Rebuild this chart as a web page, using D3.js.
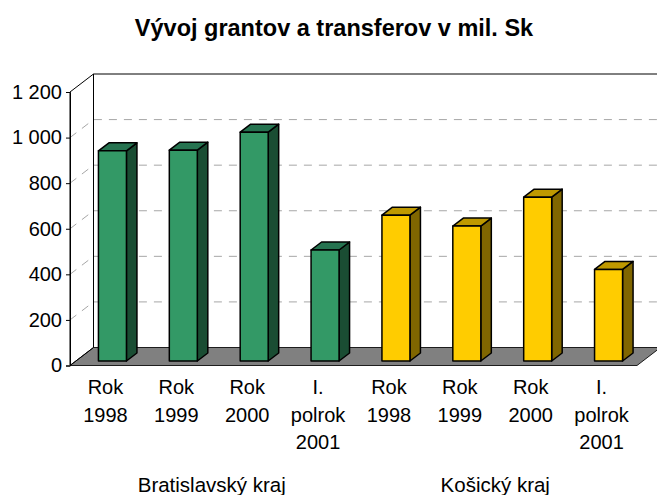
<!DOCTYPE html>
<html>
<head>
<meta charset="utf-8">
<script src="https://cdn.jsdelivr.net/npm/d3@7"></script>
<style>
  html, body { margin: 0; padding: 0; background: #fff; }
  svg { display: block; }
  text { font-family: "Liberation Sans", Arial, sans-serif; fill: #000; }
</style>
</head>
<body>
<div id="chart"></div>
<script>
var title = "Vývoj grantov a transferov v mil. Sk";
var periods = [["Rok", "1998"], ["Rok", "1999"], ["Rok", "2000"], ["I.", "polrok", "2001"],
               ["Rok", "1998"], ["Rok", "1999"], ["Rok", "2000"], ["I.", "polrok", "2001"]];
var regions = ["Bratislavský kraj", "Košický kraj"];
var values = [922, 925, 1004, 487, 640, 592, 719, 402];
var regionOf = [0, 0, 0, 0, 1, 1, 1, 1];
var yTicks = [0, 200, 400, 600, 800, 1000, 1200];

var frontColor = ["#339966", "#ffcc00"];
var topColor = ["#267350", "#bf9900"];
var sideColor = ["#1a4d33", "#806600"];

var width = 657, height = 495;
var plotLeft = 70, plotRight = 637, plotTop = 92, plotBottom = 365.5;
var depthX = 23.5, depthY = 18;       // offset of the back wall
var barDepthX = 10.5, barDepthY = 8;  // depth of one bar
var barInsetY = 4.5;                  // bars stand a bit behind the front edge of the floor
var barShift = 7;

var svg = d3.select("#chart").append("svg")
  .attr("width", width)
  .attr("height", height);

var x = d3.scaleBand()
  .domain(d3.range(values.length))
  .range([plotLeft, plotRight]);

var y = d3.scaleLinear()
  .domain([0, 1200])
  .range([plotBottom, plotTop]);

var pts = function(a) { return a.map(function(p) { return p.join(","); }).join(" "); };

svg.append("text")
  .attr("x", 334)
  .attr("y", 36)
  .attr("text-anchor", "middle")
  .style("font-size", "23.5px")
  .style("font-weight", "bold")
  .text(title);

// floor
svg.append("polygon")
  .attr("points", pts([[plotLeft, plotBottom], [plotLeft + depthX, plotBottom - depthY],
                       [plotRight + depthX, plotBottom - depthY], [plotRight, plotBottom]]))
  .attr("fill", "#808080")
  .attr("stroke", "#000")
  .attr("stroke-width", 1)
  .attr("stroke-opacity", 0.85);

// gridlines, left wall and back wall
var grid = svg.append("g");
yTicks.slice(1, -1).forEach(function(t) {
  grid.append("polyline")
    .attr("points", pts([[plotLeft, y(t)], [plotLeft + depthX, y(t) - depthY], [plotRight + depthX, y(t) - depthY]]))
    .attr("fill", "none")
    .attr("stroke", "#a6a6a6")
    .attr("stroke-width", 1)
    .attr("stroke-dasharray", "8,7");
});

// wall edges
svg.append("path")
  .attr("d", "M" + plotLeft + "," + plotBottom + "L" + plotLeft + "," + plotTop +
             "L" + (plotLeft + depthX) + "," + (plotTop - depthY) + "L" + (plotRight + depthX) + "," + (plotTop - depthY) +
             "M" + (plotLeft + depthX) + "," + (plotTop - depthY) + "L" + (plotLeft + depthX) + "," + (plotBottom - depthY) +
             "L" + plotLeft + "," + plotBottom)
  .attr("fill", "none")
  .attr("stroke", "#000")
  .attr("stroke-width", 1);

// y axis
var axis = svg.append("g")
  .attr("transform", "translate(" + plotLeft + ",0)")
  .call(d3.axisLeft(y)
    .tickValues(yTicks)
    .tickSize(4)
    .tickPadding(4)
    .tickFormat(function(d) { return d3.format(",")(d).replace(",", " "); }));
axis.select(".domain").attr("stroke", "#000");
axis.selectAll("text")
  .style("font-family", '"Liberation Sans", Arial, sans-serif')
  .style("font-size", "20px");

// bars
var barW = 28;
var bars = svg.selectAll("g.bar")
  .data(values)
  .enter()
  .append("g")
  .attr("class", "bar")
  .attr("stroke", "#000")
  .attr("stroke-width", 1.5)
  .attr("stroke-linejoin", "round");

var bx = function(i) { return x(i) + x.bandwidth() / 2 - barW / 2 + barShift; };
var by = function(d) { return y(d) - barInsetY; };
var base = plotBottom - barInsetY;

bars.append("polygon")
  .attr("fill", function(d, i) { return sideColor[regionOf[i]]; })
  .attr("points", function(d, i) {
    var r = bx(i) + barW;
    return pts([[r, by(d)], [r + barDepthX, by(d) - barDepthY], [r + barDepthX, base - barDepthY], [r, base]]);
  });

bars.append("polygon")
  .attr("fill", function(d, i) { return topColor[regionOf[i]]; })
  .attr("points", function(d, i) {
    var l = bx(i), r = l + barW;
    return pts([[l, by(d)], [l + barDepthX, by(d) - barDepthY], [r + barDepthX, by(d) - barDepthY], [r, by(d)]]);
  });

bars.append("rect")
  .attr("x", function(d, i) { return bx(i); })
  .attr("y", by)
  .attr("width", barW)
  .attr("height", function(d) { return base - by(d); })
  .attr("fill", function(d, i) { return frontColor[regionOf[i]]; });

// category labels
var labels = svg.selectAll("text.period")
  .data(periods)
  .enter()
  .append("text")
  .attr("class", "period")
  .attr("text-anchor", "middle")
  .style("font-size", "20px");

labels.selectAll("tspan")
  .data(function(d, i) { return d.map(function(s) { return { s: s, i: i }; }); })
  .enter()
  .append("tspan")
  .attr("x", function(d) { return x(d.i) + x.bandwidth() / 2; })
  .attr("y", function(d, k) { return 394 + k * 27.5; })
  .text(function(d) { return d.s; });

// region labels
svg.selectAll("text.region")
  .data(regions)
  .enter()
  .append("text")
  .attr("class", "region")
  .attr("text-anchor", "middle")
  .attr("x", function(d, i) { return x(i * 4) + x.bandwidth() * 2; })
  .attr("y", 492)
  .style("font-size", "20.5px")
  .text(function(d) { return d; });
</script>
</body>
</html>
